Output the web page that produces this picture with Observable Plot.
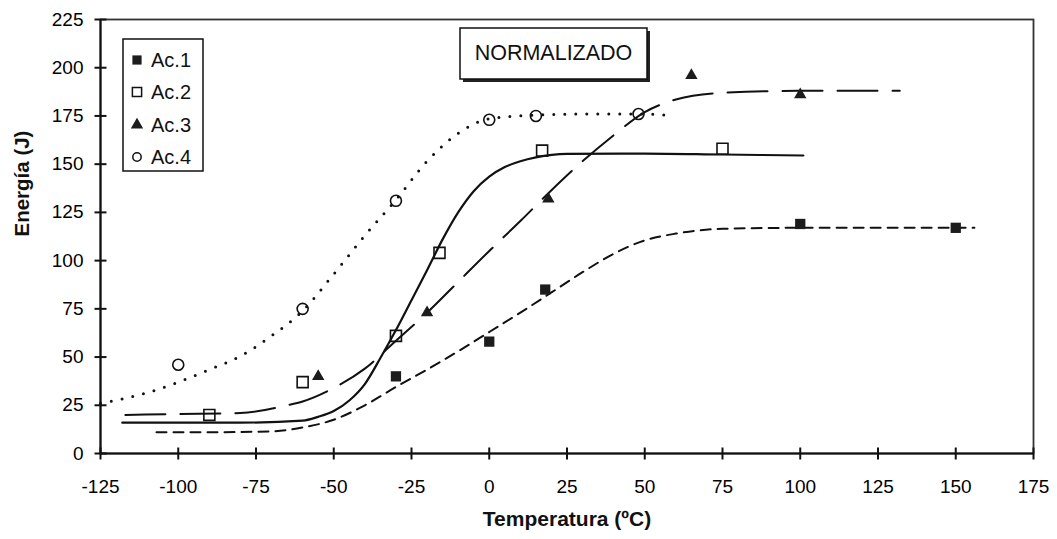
<!DOCTYPE html>
<html><head><meta charset="utf-8">
<script src="https://cdn.jsdelivr.net/npm/d3@7"></script>
<script src="https://cdn.jsdelivr.net/npm/@observablehq/plot@0.6"></script>
<style>
body{margin:0;background:#fff}
#chart{position:relative;width:1057px;height:539px}
</style>
</head><body><div id="chart"></div>
<script>
// Axis ticks
const xTicks = [-125,-100,-75,-50,-25,0,25,50,75,100,125,150,175];
const yTicks = [0,25,50,75,100,125,150,175,200,225];

// Series labels
const seriesNames = ["Ac.1","Ac.2","Ac.3","Ac.4"];

// Measured points
const ac1X = [-30, 0, 18, 100, 150];
const ac1Y = [40, 58, 85, 119, 117];
const ac2X = [-90, -60, -30, -16, 17, 75];
const ac2Y = [20, 37, 61, 104, 157, 158];
const ac3X = [-55, -20, 19, 65, 100];
const ac3Y = [40, 73, 132, 196, 186];
const ac4X = [-100, -60, -30, 0, 15, 48];
const ac4Y = [46, 75, 131, 173, 175, 176];

// Fitted curves
const fit1X = [-107,-90,-70,-60,-50,-40,-30,-20,-10,0,10,20,30,40,50,60,75,100,125,156];
const fit1Y = [11,11,11.5,13.5,17.5,25,34.5,43.5,53,63,73,83.5,94,103.5,110.5,114,116.5,117,117,117];
const fit2X = [-118,-100,-80,-60,-55,-50,-45,-40,-35,-30,-25,-20,-15,-10,-5,0,5,10,15,25,50,75,101];
const fit2Y = [16,16,16,17,19,22,27.5,36,49.5,64,79.5,95,111,125,136,143.5,148.5,151.5,153.5,155.3,155.5,155,154.5];
const fit3X = [-117,-100,-80,-65,-60,-50,-40,-30,-20,-10,0,10,20,30,40,50,60,75,100,132];
const fit3Y = [20,20.5,21,25,27,34,44,58.5,73,89,105,120.5,136.5,151.5,165,177,183.5,187,188,188];
const fit4X = [-125,-110,-100,-90,-80,-70,-60,-50,-40,-30,-20,-10,0,15,30,50,59];
const fit4Y = [26,31.5,37,43.5,50.5,61,74,93,113,131.5,151.5,166,173.5,175.5,176,176,175];

const pts = (X, Y) => X.map((x, i) => ({x, y: Y[i]}));
const ink = "#111";
const font = "'Liberation Sans', Arial, sans-serif";

// tick glyphs that cross the axis line
const vTick = {draw(ctx) { ctx.moveTo(0, -6); ctx.lineTo(0, 6); }};
const hTick = {draw(ctx) { ctx.moveTo(-6, 0); ctx.lineTo(6, 0); }};

const plot = Plot.plot({
  width: 1057, height: 539,
  marginLeft: 100, marginRight: 24, marginTop: 19, marginBottom: 86,
  x: {domain: [-125, 175]},
  y: {domain: [0, 225]},
  style: {fontFamily: font, background: "#fff", color: "#000"},
  marks: [
    Plot.frame({stroke: "#333", strokeWidth: 1.8}),
    // tick labels
    Plot.axisX({ticks: xTicks, tickSize: 0, tickPadding: 26, fontSize: 19, label: null, tickFormat: d => String(d)}),
    Plot.axisY({ticks: yTicks, tickSize: 0, tickPadding: 17, fontSize: 19, label: null, tickFormat: d => String(d)}),
    Plot.ruleY([0], {stroke: ink, strokeWidth: 2}),
    Plot.ruleX([-125], {stroke: ink, strokeWidth: 2}),
    // tick marks crossing the axes
    Plot.dot(xTicks, {x: d => d, y: () => 0, symbol: vTick, stroke: ink, strokeWidth: 2, fill: "none"}),
    Plot.dot(yTicks, {x: () => -125, y: d => d, symbol: hTick, stroke: ink, strokeWidth: 2, fill: "none"}),
    // fitted curves
    Plot.line(pts(fit1X, fit1Y), {x: "x", y: "y", curve: "monotone-x", stroke: ink, strokeWidth: 2, strokeDasharray: "10,7"}),
    Plot.line(pts(fit2X, fit2Y), {x: "x", y: "y", curve: "monotone-x", stroke: ink, strokeWidth: 2.2}),
    Plot.line(pts(fit3X, fit3Y), {x: "x", y: "y", curve: "monotone-x", stroke: ink, strokeWidth: 2, strokeDasharray: "40,15"}),
    Plot.line(pts(fit4X, fit4Y), {x: "x", y: "y", curve: "monotone-x", stroke: ink, strokeWidth: 3, strokeDasharray: "0,11", strokeLinecap: "round"}),
    // points
    Plot.dot(pts(ac1X, ac1Y), {x: "x", y: "y", symbol: "square", r: 5.8, fill: "#1c1c1c", stroke: "none"}),
    Plot.dot(pts(ac2X, ac2Y), {x: "x", y: "y", symbol: "square", r: 6.2, fill: "none", stroke: ink, strokeWidth: 1.6}),
    Plot.dot(pts(ac3X, ac3Y), {x: "x", y: "y", symbol: "triangle", r: 4.6, fill: "#1c1c1c", stroke: "none"}),
    Plot.dot(pts(ac4X, ac4Y), {x: "x", y: "y", symbol: "circle", r: 5.5, fill: "none", stroke: ink, strokeWidth: 1.6}),
    // axis titles
    Plot.text(["Temperatura (ºC)"], {frameAnchor: "bottom", dy: 72, fontSize: 21, fontWeight: "bold", fill: "#111"}),
    Plot.text(["Energía (J)"], {frameAnchor: "left", dx: -78, rotate: -90, fontSize: 20.5, fontWeight: "bold", fill: "#111"})
  ]
});

document.getElementById("chart").appendChild(plot);

// Legend box and title box
const svg = d3.select(plot);
const g = svg.append("g").attr("font-family", font).attr("text-anchor", "start");

// NORMALIZADO box with shadow
g.append("rect").attr("x", 463).attr("y", 31).attr("width", 187).attr("height", 51).attr("fill", "#222");
g.append("rect").attr("x", 460).attr("y", 28).attr("width", 187).attr("height", 51).attr("fill", "#fff").attr("stroke", ink).attr("stroke-width", 1.5);
g.append("text").attr("x", 553.5).attr("y", 60).attr("text-anchor", "middle").attr("font-size", 21.5).attr("fill", "#111").text("NORMALIZADO");

// Legend
g.append("rect").attr("x", 123).attr("y", 39).attr("width", 80).attr("height", 132).attr("fill", "#fff").attr("stroke", ink).attr("stroke-width", 1.5);
const legendRows = [
  {sym: d3.symbolSquare, size: Math.PI * 5.2 * 5.2, fill: "#1c1c1c", stroke: "none"},
  {sym: d3.symbolSquare, size: Math.PI * 5.2 * 5.2, fill: "none", stroke: ink},
  {sym: d3.symbolTriangle, size: Math.PI * 4.6 * 4.6, fill: "#1c1c1c", stroke: "none"},
  {sym: d3.symbolCircle, size: Math.PI * 4.2 * 4.2, fill: "none", stroke: ink}
];
const rowY = [60, 92, 125, 157];
legendRows.forEach((r, i) => {
  g.append("path").attr("d", d3.symbol(r.sym, r.size)()).attr("transform", `translate(137,${rowY[i]})`)
    .attr("fill", r.fill).attr("stroke", r.stroke).attr("stroke-width", 1.5);
  g.append("text").attr("x", 151).attr("y", rowY[i] + 7).attr("text-anchor", "start").attr("font-size", 20).attr("fill", "#111").text(seriesNames[i]);
});
</script>
</body></html>
